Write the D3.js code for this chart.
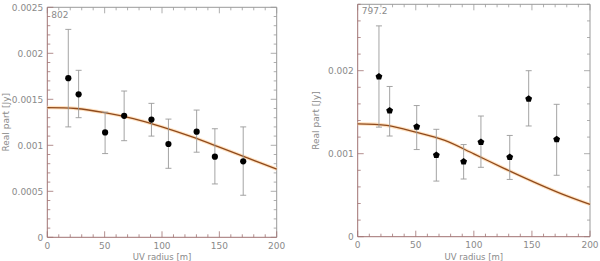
<!DOCTYPE html>
<html>
<head>
<meta charset="utf-8">
<script src="https://cdn.jsdelivr.net/npm/d3@7"></script>
<style>
  html, body { margin: 0; padding: 0; background: #fff; }
  svg { display: block; }
  text { font-family: "DejaVu Sans", sans-serif; fill: #8a8a8a; }
</style>
</head>
<body>
<div id="chart"></div>
<script>
// uv radius of the binned points (same bins for both panels)
const uvLeft = [18.3, 27.3, 50.4, 67, 90.8, 105.6, 130.2, 146.1, 170.8]
const realLeft = [0.00173, 0.001554, 0.00114, 0.00132, 0.00128, 0.001014, 0.001148, 0.000876, 0.000826]
const loLeft = [0.0012, 0.0013, 0.00091, 0.00105, 0.0011, 0.00075, 0.000925, 0.00058, 0.000457]
const hiLeft = [0.00226, 0.001815, 0.00136, 0.00159, 0.001456, 0.001285, 0.001383, 0.00118, 0.0012]

const uvRight = [18.3, 27.5, 50.8, 67.7, 91.2, 106.1, 130.9, 147.2, 171.3]
const realRight = [0.00193, 0.00152, 0.001325, 0.000984, 0.000904, 0.00114, 0.00096, 0.00166, 0.001173]
const loRight = [0.00132, 0.001213, 0.00105, 0.00067, 0.000695, 0.000836, 0.00069, 0.001334, 0.00074]
const hiRight = [0.00254, 0.00181, 0.00158, 0.001294, 0.00111, 0.001454, 0.00122, 0.002, 0.001595]

// model curves
const modelUv = [0, 25, 50, 75, 100, 125, 150, 175, 200]
const modelLeft = [0.00141, 0.0014, 0.001355, 0.00129, 0.0012, 0.001096, 0.00098, 0.00086, 0.00074]
const modelRight = [0.00136, 0.00134, 0.00126, 0.00116, 0.000997, 0.00083, 0.00067, 0.00052, 0.00039]

const panelNames = ['802', '797.2']
const yTicksLeft = [0, 0.0005, 0.001, 0.0015, 0.002, 0.0025]
const yTicksRight = [0, 0.001, 0.002]
const xTicks = [0, 50, 100, 150, 200]

const W = 600, H = 261
const svg = d3.select('#chart').append('svg').attr('width', W).attr('height', H)

const axisColor = '#a07272'
const frameColor = '#9a9a9a'

function drawPanel(opt) {
  const x = d3.scaleLinear().domain([0, 200]).range([opt.left, opt.right])
  const y = d3.scaleLinear().domain([0, opt.ymax]).range([opt.bottom, opt.top])
  const g = svg.append('g')

  // frame: top and right in grey
  g.append('line').attr('x1', opt.left).attr('x2', opt.right).attr('y1', opt.top).attr('y2', opt.top)
    .attr('stroke', frameColor).attr('stroke-width', 1)
  g.append('line').attr('x1', opt.right).attr('x2', opt.right).attr('y1', opt.top).attr('y2', opt.bottom)
    .attr('stroke', frameColor).attr('stroke-width', 1)

  // x ticks (bottom and top)
  const xMinor = d3.range(0, 201, 10)
  xMinor.forEach(v => {
    const major = v % 50 === 0
    const len = major ? 6 : 3
    g.append('line').attr('x1', x(v)).attr('x2', x(v)).attr('y1', opt.bottom).attr('y2', opt.bottom - len)
      .attr('stroke', axisColor).attr('stroke-width', 0.8)
    g.append('line').attr('x1', x(v)).attr('x2', x(v)).attr('y1', opt.top).attr('y2', opt.top + len)
      .attr('stroke', frameColor).attr('stroke-width', 0.8)
  })

  // y ticks (left and right)
  const nMinor = Math.round(opt.ymax / opt.minor)
  d3.range(0, nMinor + 1).forEach(i => {
    const v = i * opt.minor
    const major = Math.abs(v / opt.major - Math.round(v / opt.major)) < 1e-6
    const len = major ? 6 : 3
    g.append('line').attr('x1', opt.left).attr('x2', opt.left + len).attr('y1', y(v)).attr('y2', y(v))
      .attr('stroke', axisColor).attr('stroke-width', 0.8)
    g.append('line').attr('x1', opt.right).attr('x2', opt.right - len).attr('y1', y(v)).attr('y2', y(v))
      .attr('stroke', frameColor).attr('stroke-width', 0.8)
  })

  // left and bottom axis lines
  g.append('line').attr('x1', opt.left).attr('x2', opt.left).attr('y1', opt.top).attr('y2', opt.bottom)
    .attr('stroke', axisColor).attr('stroke-width', 1)
  g.append('line').attr('x1', opt.left).attr('x2', opt.right).attr('y1', opt.bottom).attr('y2', opt.bottom)
    .attr('stroke', axisColor).attr('stroke-width', 1)

  // tick labels
  g.selectAll('.xl').data(xTicks).join('text')
    .attr('x', d => x(d)).attr('y', opt.bottom + 11.5)
    .attr('text-anchor', 'middle').attr('font-size', 9)
    .text(d => d)
  g.selectAll('.yl').data(opt.yTicks).join('text')
    .attr('x', opt.left - 4).attr('y', d => y(d) + 3.5)
    .attr('text-anchor', 'end').attr('font-size', 9)
    .text(d => d === 0 ? '0' : String(d))

  // titles
  g.append('text').attr('x', (opt.left + opt.right) / 2).attr('y', 259.5)
    .attr('text-anchor', 'middle').attr('font-size', 8.5).text('UV radius [m]')
  g.append('text')
    .attr('transform', `translate(${opt.ytitleX},${(opt.top + opt.bottom) / 2}) rotate(-90)`)
    .attr('text-anchor', 'middle').attr('font-size', 9).text('Real part [Jy]')
  g.append('text').attr('x', opt.left + 4).attr('y', opt.nameY)
    .attr('font-size', 9).text(opt.name)

  // model curve with soft orange halo
  const line = d3.line().x((d, i) => x(modelUv[i])).y(d => y(d)).curve(d3.curveCatmullRom)
  g.append('path').attr('d', line(opt.model)).attr('fill', 'none')
    .attr('stroke', '#ffd9b0').attr('stroke-width', 3.5).attr('opacity', 0.8)
  g.append('path').attr('d', line(opt.model)).attr('fill', 'none')
    .attr('stroke', '#8f4a1c').attr('stroke-width', 1.3)

  // error bars
  const eb = g.append('g').attr('stroke', '#9a9a9a').attr('stroke-width', 0.9)
  opt.uv.forEach((u, i) => {
    eb.append('line').attr('x1', x(u)).attr('x2', x(u)).attr('y1', y(opt.lo[i])).attr('y2', y(opt.hi[i]))
    eb.append('line').attr('x1', x(u) - 3).attr('x2', x(u) + 3).attr('y1', y(opt.lo[i])).attr('y2', y(opt.lo[i]))
    eb.append('line').attr('x1', x(u) - 3).attr('x2', x(u) + 3).attr('y1', y(opt.hi[i])).attr('y2', y(opt.hi[i]))
  })

  // points
  const pent = r => d3.range(5).map(k => {
    const a = -Math.PI / 2 + k * 2 * Math.PI / 5
    return [r * Math.cos(a), r * Math.sin(a)]
  })
  opt.uv.forEach((u, i) => {
    if (opt.pentagon) {
      g.append('path')
        .attr('d', 'M' + pent(3.6).map(p => p.join(',')).join('L') + 'Z')
        .attr('transform', `translate(${x(u)},${y(opt.real[i])})`)
        .attr('fill', '#000')
    } else {
      g.append('circle').attr('cx', x(u)).attr('cy', y(opt.real[i])).attr('r', 3.1).attr('fill', '#000')
    }
  })
}

drawPanel({
  left: 47.3, right: 276.7, top: 7.3, bottom: 237.3, ymax: 0.0025, major: 0.0005, minor: 0.0001,
  yTicks: yTicksLeft, ytitleX: 9, name: panelNames[0], nameY: 17.5,
  uv: uvLeft, real: realLeft, lo: loLeft, hi: hiLeft, model: modelLeft, pentagon: false
})
drawPanel({
  left: 357.7, right: 590, top: 4.3, bottom: 236.7, ymax: 0.0028, major: 0.001, minor: 0.0002,
  yTicks: yTicksRight, ytitleX: 319, name: panelNames[1], nameY: 14,
  uv: uvRight, real: realRight, lo: loRight, hi: hiRight, model: modelRight, pentagon: true
})
</script>
</body>
</html>
